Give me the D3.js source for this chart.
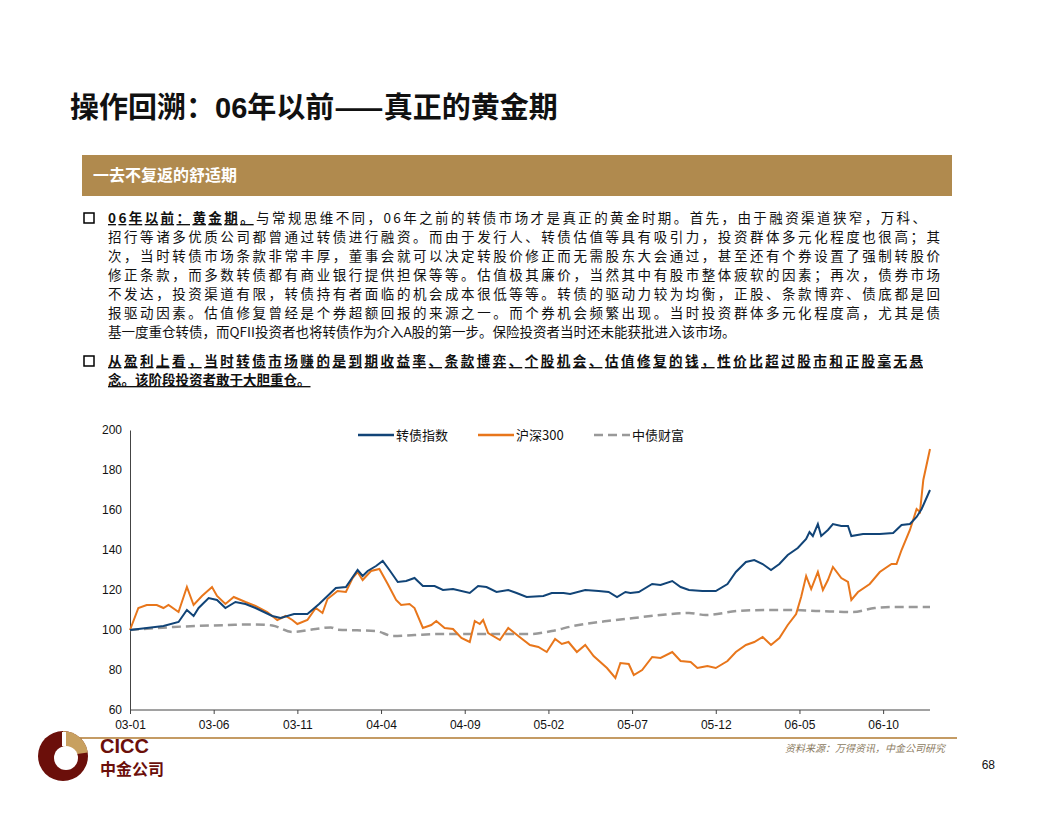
<!DOCTYPE html>
<html><head><meta charset="utf-8">
<script src="https://cdn.jsdelivr.net/npm/d3@7"></script>
<style>body{margin:0;background:#fff;}svg{display:block;font-family:"Noto Sans CJK SC",sans-serif;}</style>
</head><body>
<script>
// data: [month since 2003-01, value]
var cbIndex = [[0,100],[1,101],[2,102],[2.9,104],[3.4,110],[3.8,107],[4.1,111],[4.7,116],[5.2,115],[5.7,111],[6.3,114],[6.9,113],[7.5,111],[8.5,107],[9,106],[9.8,108],[10.6,108],[11.3,113],[11.8,117],[12.3,121],[12.9,121.5],[13.6,130],[13.9,127],[14.2,129.5],[14.7,132],[15.1,134.5],[15.5,130],[16,124],[16.5,124.5],[17,126],[17.5,122],[18.2,122],[18.7,120],[19.3,120.5],[20.3,118.5],[20.8,122],[21.3,121.5],[21.9,119],[22.6,120],[23.1,118.5],[23.7,116.5],[24.7,117],[25.2,118.5],[25.9,118.5],[26.3,118],[27.2,120],[28,119.5],[28.6,119],[29.1,116.5],[29.6,119],[29.9,118.5],[30.4,119],[31.2,123],[31.7,122.5],[32.4,124.5],[32.9,121.5],[33.4,120],[34.2,119.5],[35,119.5],[35.7,123],[36.2,129],[36.8,134],[37.3,135],[37.8,133],[38.3,130],[38.8,133],[39.3,137.5],[39.9,141],[40.4,145.5],[40.6,149],[40.8,147],[41.1,153],[41.3,147],[41.7,150],[42,153],[42.5,152],[42.9,152],[43.1,147],[43.8,148],[44.8,148],[45.6,148.5],[46.1,152.5],[46.6,153],[47,156.5],[47.3,160.5],[47.8,170]];
var hs300 = [[0,100],[0.5,111],[1,112.5],[1.6,112.5],[2,111],[2.3,112.5],[2.9,109],[3.4,121.5],[3.8,112.5],[4.3,117],[4.9,121.5],[5.2,117],[5.7,113],[6.2,116.5],[6.9,114],[7.5,112],[8.2,109],[8.8,105],[9.3,107],[9.7,105],[10,103],[10.6,105],[11.1,111],[11.5,108.5],[11.8,115.5],[12.4,119.5],[12.9,119],[13.3,126],[13.6,129],[13.9,125],[14.4,129.5],[14.9,130.5],[15.4,123],[15.9,115],[16.2,112.5],[16.7,113],[17,111],[17.5,101],[18,102.5],[18.3,104.5],[18.8,101],[19.3,100.5],[19.8,96],[20.3,94],[20.6,104.5],[20.9,103],[21.1,105],[21.4,98.5],[22.1,95],[22.6,101],[23.2,97],[23.9,92.5],[24.4,91.5],[24.9,89],[25.4,95.5],[25.8,93],[26.2,94],[26.7,89],[27.2,92.5],[27.7,87],[28.5,81],[29,76],[29.3,83.5],[29.8,83],[30.1,77.5],[30.6,80],[31.2,86.5],[31.7,86],[32.4,89],[32.9,84.5],[33.5,84],[33.9,81],[34.2,81.5],[34.5,82],[35,81],[35.7,84.5],[36.2,89],[36.8,92.5],[37.3,94],[37.8,96.5],[38.3,92.5],[38.8,96],[39.3,102.5],[39.8,108],[40.1,116.5],[40.4,127],[40.7,120.5],[41.1,129],[41.4,120],[41.7,125],[42,131.5],[42.5,126],[42.9,124],[43.1,115],[43.5,119],[44.2,123],[44.8,129],[45.5,133],[45.8,133],[46.1,140],[46.6,150],[47,160.5],[47.2,159],[47.4,175],[47.8,190.5]];
var chinaBond = [[0,100],[2.6,101.5],[5.9,102.5],[7.5,102.8],[8.5,102.3],[9.7,99],[11.1,100.5],[12,101.3],[12.4,100.2],[14.7,99.5],[15.7,97],[17,97.5],[18.7,98],[20.6,98],[23.9,98],[25.2,99.5],[26.5,102],[28.5,104.5],[30.1,106],[31.7,107.5],[33.4,108.5],[34.4,107.5],[36.3,109.5],[38,110],[39.6,110],[41.2,109.5],[43.2,109],[44.5,111],[45.8,111.5],[47.8,111.5]];
var tickMonths = [0,5,10,15,20,25,30,35,40,45];
var tickLabels = ["03-01","03-06","03-11","04-04","04-09","05-02","05-07","05-12","06-05","06-10"];
var yTicks = [60,80,100,120,140,160,180,200];
var seriesNames = ["转债指数","沪深300","中债财富"];
var seriesColors = ["#114477","#E8761B","#999999"];

var para1 = ["与常规思维不同，06年之前的转债市场才是真正的黄金时期。首先，由于融资渠道狭窄，万科、",
 "招行等诸多优质公司都曾通过转债进行融资。而由于发行人、转债估值等具有吸引力，投资群体多元化程度也很高；其",
 "次，当时转债市场条款非常丰厚，董事会就可以决定转股价修正而无需股东大会通过，甚至还有个券设置了强制转股价",
 "修正条款，而多数转债都有商业银行提供担保等等。估值极其廉价，当然其中有股市整体疲软的因素；再次，债券市场",
 "不发达，投资渠道有限，转债持有者面临的机会成本很低等等。转债的驱动力较为均衡，正股、条款博弈、债底都是回",
 "报驱动因素。估值修复曾经是个券超额回报的来源之一。而个券机会频繁出现。当时投资群体多元化程度高，尤其是债",
 "基一度重仓转债，而QFII投资者也将转债作为介入A股的第一步。保险投资者当时还未能获批进入该市场。"];
var para2 = ["从盈利上看，当时转债市场赚的是到期收益率、条款博弈、个股机会、估值修复的钱，性价比超过股市和正股毫无悬",
 "念。该阶段投资者敢于大胆重仓。"];

var svg = d3.select("body").append("svg").attr("width",1056).attr("height",816);

// title
var title = svg.append("text").attr("x",70).attr("y",118).attr("font-size",29).attr("font-weight","bold").attr("fill","#111");
title.append("tspan").text("操作回溯：");
title.append("tspan").attr("font-family","Liberation Sans,Arial").text("06");
title.append("tspan").text("年以前——真正的黄金期");

// banner
svg.append("rect").attr("x",82).attr("y",155).attr("width",870).attr("height",41).attr("fill","#B08A4E");
svg.append("text").attr("x",93).attr("y",181).attr("fill","#fff").attr("font-size",16).attr("font-weight","bold").text("一去不复返的舒适期");

// bullets
function box(y){ svg.append("rect").attr("x",84).attr("y",y-10).attr("width",10).attr("height",10).attr("fill","none").attr("stroke","#000").attr("stroke-width",1.5); }
box(223);
var t0 = svg.append("text").attr("x",108).attr("y",223).attr("font-size",13.5).attr("fill","#111")
  .attr("textLength",818).attr("lengthAdjust","spacing");
t0.append("tspan").attr("font-weight","bold").attr("text-decoration","underline").text("06年以前：黄金期。");
t0.append("tspan").text(para1[0]);
para1.slice(1).forEach(function(l,i){
  svg.append("text").attr("x",108).attr("y",242+i*19).attr("font-size",13.5).attr("fill","#111")
    .attr("textLength", i==5 ? null : 832).attr("lengthAdjust","spacing").text(l);
});
box(366);
para2.forEach(function(l,i){
  svg.append("text").attr("x",108).attr("y",366+i*19).attr("font-size",13.5).attr("font-weight","bold")
    .attr("text-decoration","underline").attr("fill","#111")
    .attr("textLength", i==0 ? 815 : null).attr("lengthAdjust","spacing").text(l);
});

// chart
var L=130,R=930,T=430,B=710;
var x = d3.scaleLinear().domain([0,47.8]).range([L,R]);
var y = d3.scaleLinear().domain([60,200]).range([B,T]);
var ya = svg.append("g").attr("transform","translate("+L+",0)")
  .call(d3.axisLeft(y).tickValues(yTicks).tickSize(0).tickPadding(8));
var xa = svg.append("g").attr("transform","translate(0,"+B+")")
  .call(d3.axisBottom(x).tickValues(tickMonths).tickSize(4).tickFormat(function(d,i){return tickLabels[i];}).tickPadding(6));
xa.select(".domain").attr("d","M"+L+",0H"+R);
[ya,xa].forEach(function(g){
  g.selectAll("text").attr("font-family","Liberation Sans Narrow,Liberation Sans,Arial").attr("font-size",12).attr("fill","#111");
  g.selectAll("path,line").attr("stroke","#444");
});

var line = d3.line().x(function(d){return x(d[0]);}).y(function(d){return y(d[1]);});
svg.append("path").datum(chinaBond).attr("d",line.curve(d3.curveMonotoneX)).attr("fill","none").attr("stroke",seriesColors[2]).attr("stroke-width",2.5).attr("stroke-dasharray","9,5");
svg.append("path").datum(hs300).attr("d",line.curve(d3.curveLinear)).attr("fill","none").attr("stroke",seriesColors[1]).attr("stroke-width",2);
svg.append("path").datum(cbIndex).attr("d",line).attr("fill","none").attr("stroke",seriesColors[0]).attr("stroke-width",2);

// legend
var lx=[358,478,594];
seriesNames.forEach(function(n,i){
  svg.append("line").attr("x1",lx[i]).attr("x2",lx[i]+36).attr("y1",435).attr("y2",435)
    .attr("stroke",seriesColors[i]).attr("stroke-width",2.5).attr("stroke-dasharray",i==2?"9,5":null);
  svg.append("text").attr("x",lx[i]+38).attr("y",440).attr("font-size",13).attr("fill","#111").text(n);
});

// footer
svg.append("line").attr("x1",65).attr("x2",957).attr("y1",738).attr("y2",738).attr("stroke","#B07A30").attr("stroke-width",1.5);
svg.append("text").attr("x",945).attr("y",752).attr("text-anchor","end").attr("font-size",10).attr("font-style","italic").attr("fill","#8a7a60").text("资料来源：万得资讯，中金公司研究");
svg.append("text").attr("x",995).attr("y",769).attr("text-anchor","end").attr("font-family","Liberation Sans,Arial").attr("font-size",12).attr("fill","#111").text("68");

// logo
var lg = svg.append("g").attr("transform","translate(63,756)");
lg.append("circle").attr("r",25).attr("fill","#6B0F0A");
lg.append("path").attr("d",d3.arc()({innerRadius:0,outerRadius:25,startAngle:0,endAngle:Math.PI/2.2})).attr("fill","#C8A060");
lg.append("circle").attr("cx",3).attr("cy",2).attr("r",12).attr("fill","#fff");
lg.append("rect").attr("x",-1).attr("y",-24).attr("width",4).attr("height",14).attr("fill","#fff");
svg.append("text").attr("x",100).attr("y",753).attr("font-family","Liberation Sans,Arial").attr("font-weight","bold").attr("font-size",20).attr("fill","#6B0F0A").text("CICC");
svg.append("text").attr("x",100).attr("y",775).attr("font-weight","bold").attr("font-size",16).attr("fill","#6B0F0A").text("中金公司");
</script>
</body></html>
